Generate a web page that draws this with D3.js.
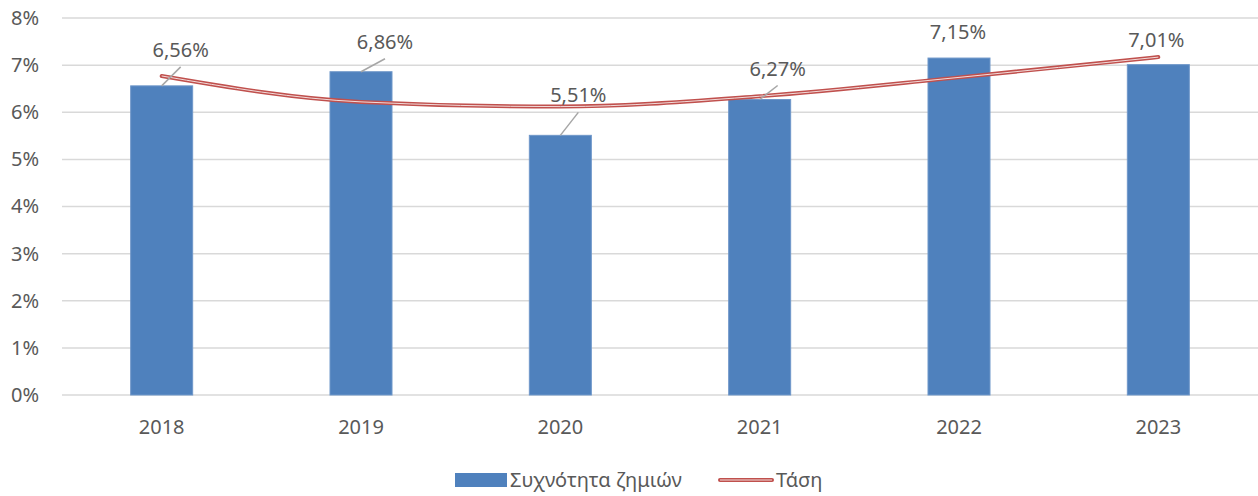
<!DOCTYPE html>
<html>
<head>
<meta charset="utf-8">
<script src="https://cdn.jsdelivr.net/npm/d3@7"></script>
<style>
  body { margin: 0; background: #fff; }
  text { font-family: "Noto Sans", "Open Sans", sans-serif; fill: #595959; }
</style>
</head>
<body>
<svg id="chart" width="1258" height="496"></svg>
<script>
// chart data
var years = ["2018", "2019", "2020", "2021", "2022", "2023"];
var lossFreq = [6.56, 6.86, 5.51, 6.27, 7.15, 7.01];
var trendVals = [6.77, 6.22, 6.12, 6.34, 6.74, 7.17];
var yTicks = [0, 1, 2, 3, 4, 5, 6, 7, 8];
var seriesNames = ["Συχνότητα ζημιών", "Τάση"];

// label offsets (dx, dy from bar top), leader line on or off
var labelDx = [19, 24, 18, 18, -1, -2];
var labelDy = [-29, -23, -33, -24, -19, -18];
var hasLeader = [true, true, true, true, false, false];

var svg = d3.select("#chart"),
    margin = {top: 18, right: 0, bottom: 101, left: 62},
    width = 1258,
    height = 496,
    fontSize = "20px";

// x scale over the categories
var x_scale = d3.scaleBand()
    .domain(years)
    .range([margin.left, width - margin.right])
    .paddingInner(0)
    .paddingOuter(0);

// y scale in percent
var y_scale = d3.scaleLinear()
    .domain([0, 8])
    .range([height - margin.bottom, margin.top]);

var fmt = function(v) { return v.toFixed(2).replace(".", ",") + "%"; };

// gridlines
svg.append("g")
   .selectAll("line")
   .data(yTicks)
   .enter()
   .append("line")
   .attr("x1", margin.left)
   .attr("x2", width - margin.right)
   .attr("y1", function(d) { return y_scale(d); })
   .attr("y2", function(d) { return y_scale(d); })
   .attr("stroke", "#d9d9d9")
   .attr("stroke-width", 1.5);

// y axis labels
var y_axis = d3.axisLeft(y_scale)
    .tickValues(yTicks)
    .tickFormat(function(d) { return d + "%"; })
    .tickSize(0)
    .tickPadding(23);

svg.append("g")
   .attr("transform", "translate(" + margin.left + ",0)")
   .call(y_axis)
   .call(function(g) { g.select(".domain").remove(); })
   .selectAll("text")
   .style("font-size", fontSize)
   .style("font-family", "'Noto Sans', sans-serif")
   .style("fill", "#595959");

// x axis labels
var x_axis = d3.axisBottom(x_scale)
    .tickSize(0)
    .tickPadding(25);

svg.append("g")
   .attr("transform", "translate(0," + (height - margin.bottom) + ")")
   .call(x_axis)
   .call(function(g) { g.select(".domain").remove(); })
   .selectAll("text")
   .style("font-size", fontSize)
   .style("font-family", "'Noto Sans', sans-serif")
   .style("fill", "#595959");

// bars
var barW = 62;
svg.selectAll(".bar")
   .data(lossFreq)
   .enter()
   .append("rect")
   .attr("class", "bar")
   .attr("x", function(d, i) { return x_scale(years[i]) + x_scale.bandwidth() / 2 - barW / 2; })
   .attr("y", function(d) { return y_scale(d); })
   .attr("width", barW)
   .attr("height", function(d) { return y_scale(0) - y_scale(d); })
   .attr("fill", "#4f81bd")
   .attr("stroke", "#6f97c9")
   .attr("stroke-width", 1);

// trend line (double red line)
var line = d3.line()
    .x(function(d, i) { return x_scale(years[i]) + x_scale.bandwidth() / 2; })
    .y(function(d) { return y_scale(d); })
    .curve(d3.curveMonotoneX);

svg.append("path")
   .datum(trendVals)
   .attr("d", line)
   .attr("fill", "none")
   .attr("stroke", "#c0504d")
   .attr("stroke-width", 4)
   .attr("stroke-linecap", "round");

svg.append("path")
   .datum(trendVals)
   .attr("d", line)
   .attr("fill", "none")
   .attr("stroke", "#f2dcdb")
   .attr("stroke-width", 1);

// leader lines
svg.selectAll(".leader")
   .data(lossFreq)
   .enter()
   .filter(function(d, i) { return hasLeader[i]; })
   .append("line")
   .attr("class", "leader")
   .attr("x1", function(d, i) { return x_scale(years[i]) + x_scale.bandwidth() / 2; })
   .attr("y1", function(d) { return y_scale(d); })
   .attr("x2", function(d, i) { return x_scale(years[i]) + x_scale.bandwidth() / 2 + labelDx[i]; })
   .attr("y2", function(d, i) { return y_scale(d) + labelDy[i] + 10; })
   .attr("stroke", "#a6a6a6")
   .attr("stroke-width", 1.5);

// data labels
svg.selectAll(".label")
   .data(lossFreq)
   .enter()
   .append("text")
   .attr("class", "label")
   .attr("x", function(d, i) { return x_scale(years[i]) + x_scale.bandwidth() / 2 + labelDx[i]; })
   .attr("y", function(d, i) { return y_scale(d) + labelDy[i]; })
   .attr("text-anchor", "middle")
   .style("font-size", fontSize)
   .text(function(d) { return fmt(d); });

// legend
var legend = svg.append("g");
legend.append("rect")
   .attr("x", 455).attr("y", 473)
   .attr("width", 52).attr("height", 14)
   .attr("fill", "#4f81bd");
legend.append("text")
   .attr("x", 510).attr("y", 487)
   .style("font-size", fontSize)
   .text(seriesNames[0]);
legend.append("line")
   .attr("x1", 720).attr("x2", 772)
   .attr("y1", 480).attr("y2", 480)
   .attr("stroke", "#c0504d").attr("stroke-width", 4)
   .attr("stroke-linecap", "round");
legend.append("line")
   .attr("x1", 720).attr("x2", 772)
   .attr("y1", 480).attr("y2", 480)
   .attr("stroke", "#f2dcdb").attr("stroke-width", 1);
legend.append("text")
   .attr("x", 776).attr("y", 487)
   .style("font-size", fontSize)
   .text(seriesNames[1]);
</script>
</body>
</html>
